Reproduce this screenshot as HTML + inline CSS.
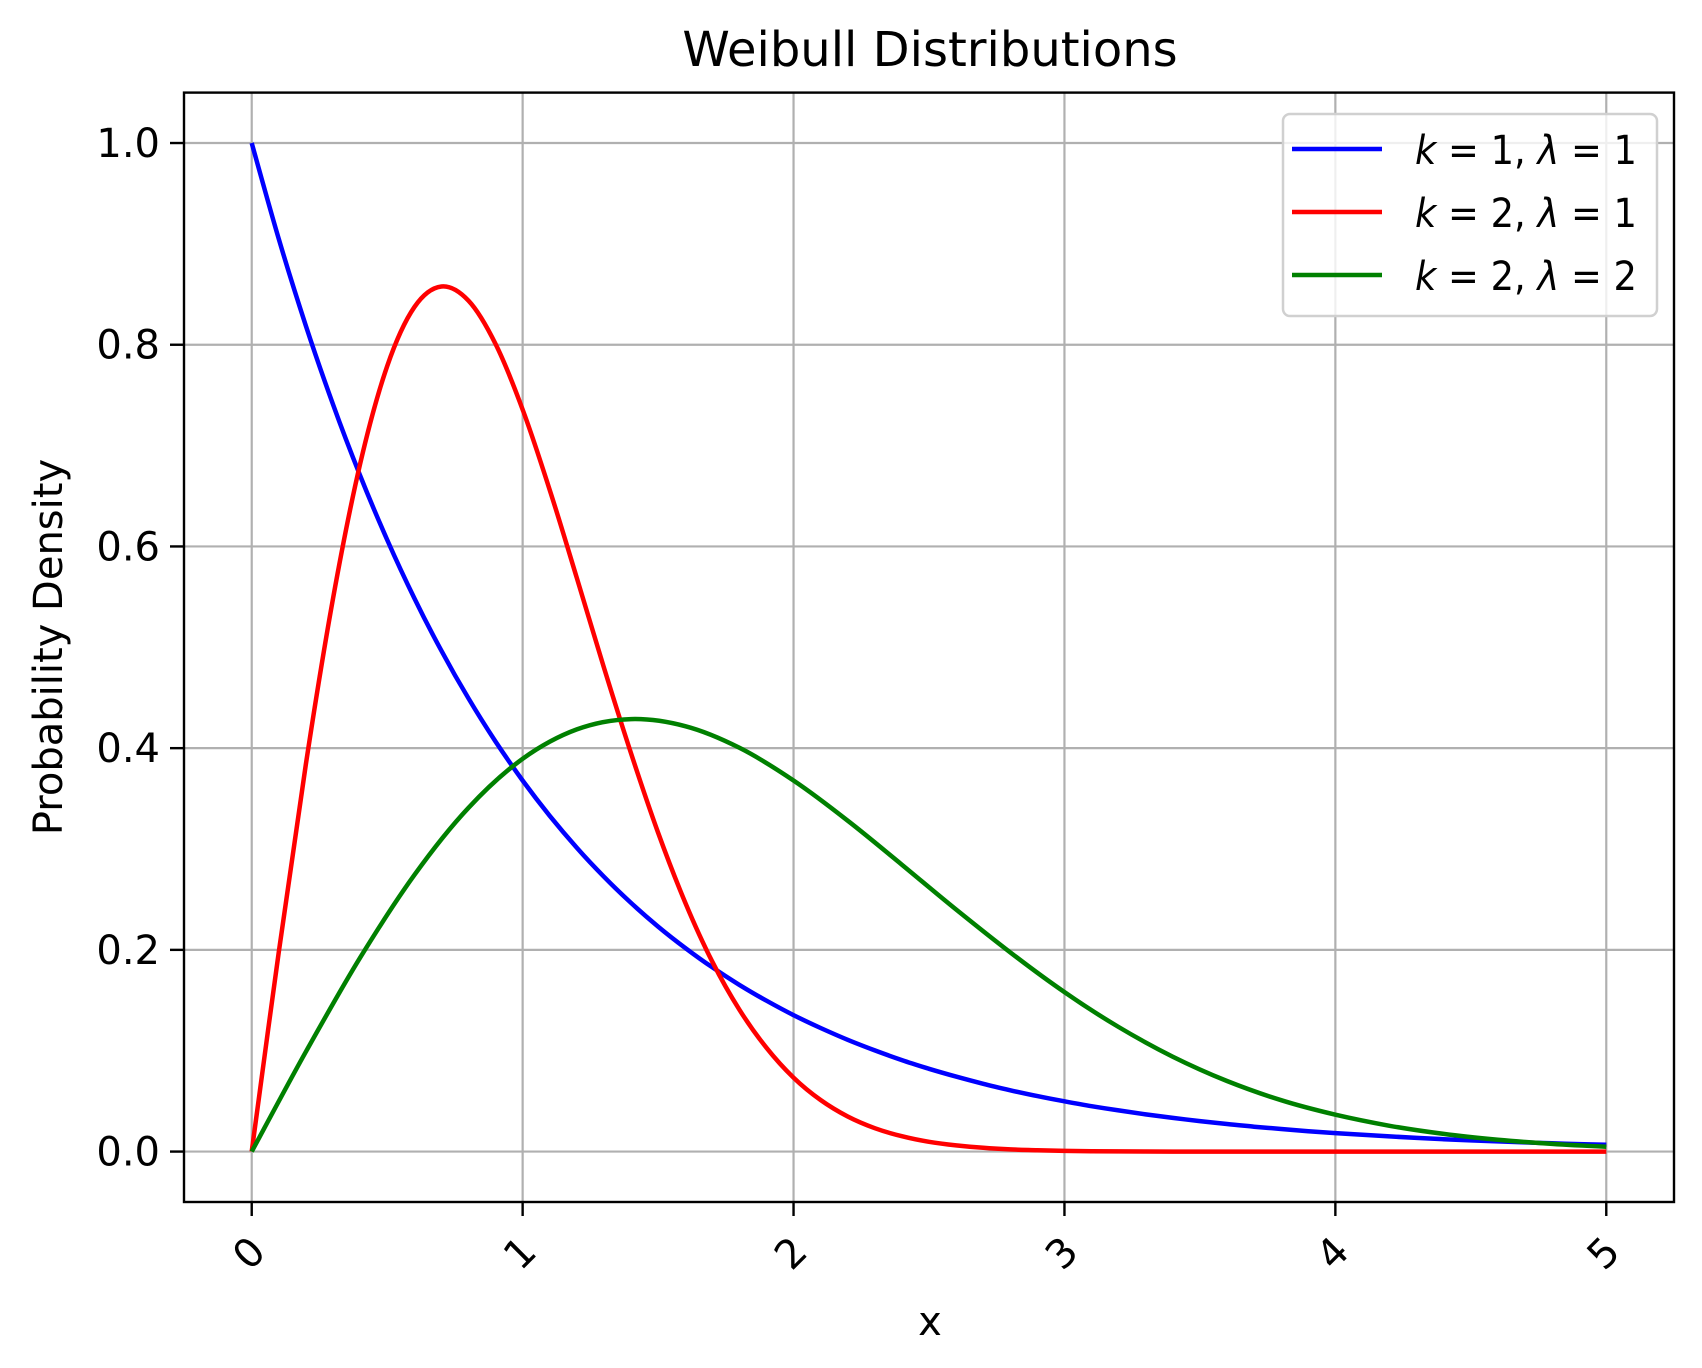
<!DOCTYPE html>
<html><head><meta charset="utf-8"><style>
html,body{margin:0;padding:0;background:#fff;}
svg{display:block;font-family:"DejaVu Sans","Liberation Sans",sans-serif;}
</style></head><body>
<svg id="chart" width="1702" height="1368" viewBox="0 0 1702 1368" xmlns="http://www.w3.org/2000/svg">
<rect width="1702" height="1368" fill="#fff"/>
<g id="grid"></g>
<g id="series"></g>
<rect x="184" y="92.6" width="1490" height="1109.4" fill="none" stroke="#000" stroke-width="2.4"/>
<g id="ticks"></g>
<text x="930" y="66" font-size="48" text-anchor="middle">Weibull Distributions</text>
<text x="930" y="1335" font-size="40" text-anchor="middle">x</text>
<text transform="translate(62,647) rotate(-90)" font-size="40" text-anchor="middle">Probability Density</text>
<g>
<rect x="1283" y="114" width="374" height="202" rx="7" fill="#fff" fill-opacity="0.8" stroke="#d0d0d0" stroke-width="2.5"/>
<g>
<line x1="1292" y1="149" x2="1382" y2="149" stroke="#0000ff" stroke-width="4.5"/>
<text x="1415" y="164" font-size="40" textLength="222" lengthAdjust="spacingAndGlyphs"><tspan font-style="italic">k</tspan> = 1, <tspan font-style="italic">λ</tspan> = 1</text></g>
<g>
<line x1="1292" y1="212" x2="1382" y2="212" stroke="#ff0000" stroke-width="4.5"/>
<text x="1415" y="227" font-size="40" textLength="222" lengthAdjust="spacingAndGlyphs"><tspan font-style="italic">k</tspan> = 2, <tspan font-style="italic">λ</tspan> = 1</text></g>
<g>
<line x1="1292" y1="275" x2="1382" y2="275" stroke="#008000" stroke-width="4.5"/>
<text x="1415" y="290" font-size="40" textLength="222" lengthAdjust="spacingAndGlyphs"><tspan font-style="italic">k</tspan> = 2, <tspan font-style="italic">λ</tspan> = 2</text></g>
</g>
</svg>
<script>
const xTicks = [0,1,2,3,4,5];
const yTicks = [0.0,0.2,0.4,0.6,0.8,1.0];
const yTickLabels = ["0.0","0.2","0.4","0.6","0.8","1.0"];
const xFine = [0,0.1,0.2,0.3,0.4,0.5,0.6,0.7,0.8,0.9,1,1.1,1.2,1.3,1.4,1.5,1.6,1.7,1.8,1.9,2,2.1,2.2,2.3,2.4,2.5,2.6,2.7,2.8,2.9,3,3.1,3.2,3.3,3.4,3.5,3.6,3.7,3.8,3.9,4,4.1,4.2,4.3,4.4,4.5,4.6,4.7,4.8,4.9,5];
const blueVals = [1,.9048,.8187,.7408,.6703,.6065,.5488,.4966,.4493,.4066,.3679,.3329,.3012,.2725,.2466,.2231,.2019,.1827,.1653,.1496,.1353,.1225,.1108,.1003,.0907,.0821,.0743,.0672,.0608,.0550,.0498,.0450,.0408,.0369,.0334,.0302,.0273,.0247,.0224,.0202,.0183,.0166,.0150,.0136,.0123,.0111,.0101,.0091,.0082,.0074,.0067];
const redVals = [0,.1980,.3843,.5483,.6817,.7788,.8372,.8577,.8437,.8008,.7358,.6561,.5688,.4800,.3950,.3162,.2470,.1883,.1407,.1029,.0733,.0511,.0348,.0232,.0152,.0097,.0061,.0037,.0022,.0013,.0007,.0004,.0002,.0001,0,0,0,0,0,0,0,0,0,0,0,0,0,0,0,0,0];
const xCoarse = [0,0.2,0.4,0.6,0.8,1,1.2,1.4,1.6,1.8,2,2.2,2.4,2.6,2.8,3,3.2,3.4,3.6,3.8,4,4.2,4.4,4.6,4.8,5];
const greenVals = [0,.0990,.1922,.2741,.3409,.3894,.4186,.4288,.4218,.4004,.3679,.3281,.2844,.2400,.1975,.1581,.1235,.0941,.0700,.0509,.0366,.0256,.0175,.0117,.0076,.0048];

const X0=184,X1=1674,Y0=92.6,Y1=1202;
function sx(v){return X0+(v+0.25)/5.5*(X1-X0);}
function sy(v){return Y1-(v+0.05)/1.1*(Y1-Y0);}
const NS="http://www.w3.org/2000/svg";
const grid=document.getElementById('grid'),ticks=document.getElementById('ticks'),series=document.getElementById('series');
function mk(t,a){const e=document.createElementNS(NS,t);for(const k in a)e.setAttribute(k,a[k]);return e;}
xTicks.forEach(v=>{
  const g=mk('line',{x1:sx(v),x2:sx(v),y1:Y0,y2:Y1,stroke:'#b0b0b0','stroke-width':2.2});
  
  
  grid.appendChild(g);
  const t=mk('line',{x1:sx(v),x2:sx(v),y1:Y1,y2:Y1+14,stroke:'#000','stroke-width':2.4});
  
  
  ticks.appendChild(t);
  const l=mk('text',{x:0,y:14,'font-size':40,'text-anchor':'middle',transform:`translate(${sx(v)-3},${Y1+51}) rotate(-45)`});
  l.textContent=String(v);
  
  
  ticks.appendChild(l);
});
yTicks.forEach((v,i)=>{
  const g=mk('line',{x1:X0,x2:X1,y1:sy(v),y2:sy(v),stroke:'#b0b0b0','stroke-width':2.2});
  
  
  grid.appendChild(g);
  const t=mk('line',{x1:X0-14,x2:X0,y1:sy(v),y2:sy(v),stroke:'#000','stroke-width':2.4});
  
  
  ticks.appendChild(t);
  const l=mk('text',{x:X0-24,y:sy(v)+14,'font-size':40,'text-anchor':'end'});
  l.textContent=yTickLabels[i];
  
  
  ticks.appendChild(l);
});
function line(xs,ys,color,name){
  const P=xs.map((x,i)=>[sx(x),sy(ys[i])]);
  let d='M'+P[0][0].toFixed(1)+','+P[0][1].toFixed(1);
  for(let i=0;i<P.length-1;i++){
    const p0=P[Math.max(0,i-1)],p1=P[i],p2=P[i+1],p3=P[Math.min(P.length-1,i+2)];
    const c1=[p1[0]+(p2[0]-p0[0])/6,p1[1]+(p2[1]-p0[1])/6];
    const c2=[p2[0]-(p3[0]-p1[0])/6,p2[1]-(p3[1]-p1[1])/6];
    d+=` C${c1[0].toFixed(1)},${c1[1].toFixed(1)} ${c2[0].toFixed(1)},${c2[1].toFixed(1)} ${p2[0].toFixed(1)},${p2[1].toFixed(1)}`;
  }
  const p=mk('path',{d:d,fill:'none',stroke:color,'stroke-width':4.5,'stroke-linejoin':'round'});
  
  
  series.appendChild(p);
}
line(xFine,blueVals,'#0000ff','line-k1-l1');
line(xFine,redVals,'#ff0000','line-k2-l1');
line(xCoarse,greenVals,'#008000','line-k2-l2');
</script>
</body></html>
